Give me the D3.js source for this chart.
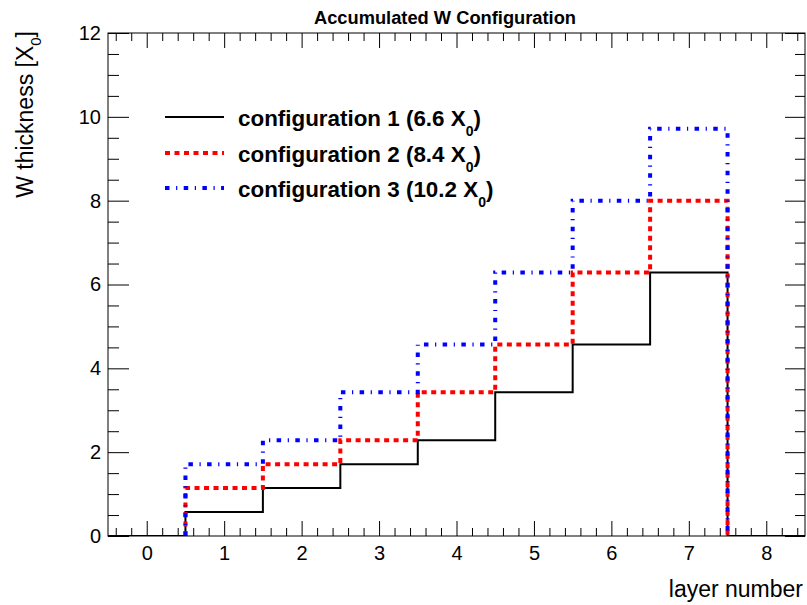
<!DOCTYPE html>
<html>
<head>
<meta charset="utf-8">
<script src="https://cdn.jsdelivr.net/npm/d3@7"></script>
<style>
  body { margin: 0; background: #fff; }
  svg { display: block; font-family: "Liberation Sans", Arial, Helvetica, sans-serif; }
</style>
</head>
<body>
<svg id="chart" width="807" height="605"></svg>
<script>
// ---- data ----
const title = "Accumulated W Configuration";
const xTitle = "layer number";
const layers = [0, 1, 2, 3, 4, 5, 6, 7, 8];
const config1 = [0, 0.571, 1.143, 1.714, 2.286, 3.429, 4.571, 6.286, 0];
const config2 = [0, 1.143, 1.714, 2.286, 3.429, 4.571, 6.286, 8.0, 0];
const config3 = [0, 1.714, 2.286, 3.429, 4.571, 6.286, 8.0, 9.714, 0];
const legendLabels = ["configuration 1 (6.6 X", "configuration 2 (8.4 X", "configuration 3 (10.2 X"];
const xTickValues = [0, 1, 2, 3, 4, 5, 6, 7, 8];
const yTickValues = [0, 2, 4, 6, 8, 10, 12];

// ---- layout ----
const svg = d3.select("#chart");
const L = 108, R = 805, T = 33, B = 536;
const x = d3.scaleLinear().domain([-0.5, 8.5]).range([L, R]);
const y = d3.scaleLinear().domain([0, 12]).range([B, T]);

const xMinor = d3.range(-0.4, 8.45, 0.2).map(v => Math.round(v * 10) / 10).filter(v => Math.abs(v - Math.round(v)) > 1e-6);
const yMinor = d3.range(0.5, 12, 0.5).filter(v => v % 2 !== 0);

function styleAxis(g) {
  g.select(".domain").remove();
  g.selectAll(".tick line").attr("stroke", "#000").attr("stroke-width", 1);
  g.selectAll(".tick text").attr("fill", "#000");
}

// bottom axis
svg.append("g").attr("transform", `translate(0,${B})`)
  .call(d3.axisBottom(x).tickValues(xTickValues).tickSize(-15).tickPadding(10).tickFormat(d3.format("d")))
  .call(styleAxis)
  .selectAll("text").attr("font-size", 20);
svg.append("g").attr("transform", `translate(0,${B})`)
  .call(d3.axisBottom(x).tickValues(xMinor).tickSize(-8).tickFormat(""))
  .call(styleAxis);
// top axis
svg.append("g").attr("transform", `translate(0,${T})`)
  .call(d3.axisTop(x).tickValues(xTickValues).tickSize(-15).tickFormat(""))
  .call(styleAxis);
svg.append("g").attr("transform", `translate(0,${T})`)
  .call(d3.axisTop(x).tickValues(xMinor).tickSize(-8).tickFormat(""))
  .call(styleAxis);
// left axis
svg.append("g").attr("transform", `translate(${L},0)`)
  .call(d3.axisLeft(y).tickValues(yTickValues).tickSize(-21).tickPadding(7).tickFormat(d3.format("d")))
  .call(styleAxis)
  .selectAll("text").attr("font-size", 20);
svg.append("g").attr("transform", `translate(${L},0)`)
  .call(d3.axisLeft(y).tickValues(yMinor).tickSize(-11).tickFormat(""))
  .call(styleAxis);
// right axis
svg.append("g").attr("transform", `translate(${R},0)`)
  .call(d3.axisRight(y).tickValues(yTickValues).tickSize(-20).tickFormat(""))
  .call(styleAxis);
svg.append("g").attr("transform", `translate(${R},0)`)
  .call(d3.axisRight(y).tickValues(yMinor).tickSize(-10).tickFormat(""))
  .call(styleAxis);

// clip
svg.append("clipPath").attr("id", "clip").append("rect")
  .attr("x", L).attr("y", T).attr("width", R - L).attr("height", B - T);

// ---- histograms ----
const stepLine = d3.line().x(d => x(d[0])).y(d => y(d[1])).curve(d3.curveStepAfter);

function fullPoints(vals) {
  const pts = layers.map((l, i) => [l - 0.5, vals[i]]);
  pts.push([layers[layers.length - 1] + 0.5, vals[vals.length - 1]]);
  return pts;
}
function innerPoints(vals) {
  const pts = [[layers[1] - 0.5, 0]];
  for (let i = 1; i < layers.length - 1; i++) pts.push([layers[i] - 0.5, vals[i]]);
  pts.push([layers[layers.length - 1] - 0.5, 0]);
  return pts;
}

const series = [
  { vals: config1, color: "#000000", width: 2, dash: null, pts: fullPoints },
  { vals: config2, color: "#ff0000", width: 4, dash: "5,4.5", pts: innerPoints },
  { vals: config3, color: "#0000ff", width: 4, dash: "4.5,6.6,1.2,6.4", pts: innerPoints }
];

const hg = svg.append("g").attr("clip-path", "url(#clip)");
series.forEach(s => {
  hg.append("path")
    .attr("d", stepLine(s.pts(s.vals)))
    .attr("fill", "none")
    .attr("stroke", s.color)
    .attr("stroke-width", s.width)
    .attr("stroke-dasharray", s.dash)
    .attr("stroke-linecap", "butt");
});

// frame
svg.append("rect").attr("x", L).attr("y", T).attr("width", R - L).attr("height", B - T)
  .attr("fill", "none").attr("stroke", "#000").attr("stroke-width", 1);

// ---- legend ----
const legY = [117, 153, 188];
series.forEach((s, i) => {
  svg.append("line")
    .attr("x1", 165).attr("x2", 224).attr("y1", legY[i]).attr("y2", legY[i])
    .attr("stroke", s.color).attr("stroke-width", s.width)
    .attr("stroke-dasharray", s.dash);
  const t = svg.append("text").attr("x", 238).attr("y", legY[i] + 9)
    .attr("font-size", 22.4).attr("font-weight", "bold").attr("fill", "#000");
  t.append("tspan").text(legendLabels[i]);
  t.append("tspan").attr("dy", 10).attr("font-size", 14).text("0");
  t.append("tspan").attr("dy", -10).text(")");
});

// ---- titles ----
svg.append("text").attr("x", 445).attr("y", 24).attr("text-anchor", "middle")
  .attr("font-size", 18.3).attr("font-weight", "bold").text(title);

svg.append("text").attr("x", 803).attr("y", 597).attr("text-anchor", "end")
  .attr("font-size", 23).text(xTitle);

const yt = svg.append("text").attr("transform", "translate(33,31) rotate(-90)")
  .attr("text-anchor", "end").attr("font-size", 23);
yt.append("tspan").text("W thickness [X");
yt.append("tspan").attr("dy", 8).attr("font-size", 15).text("0");
yt.append("tspan").attr("dy", -8).text("]");
</script>
</body>
</html>
